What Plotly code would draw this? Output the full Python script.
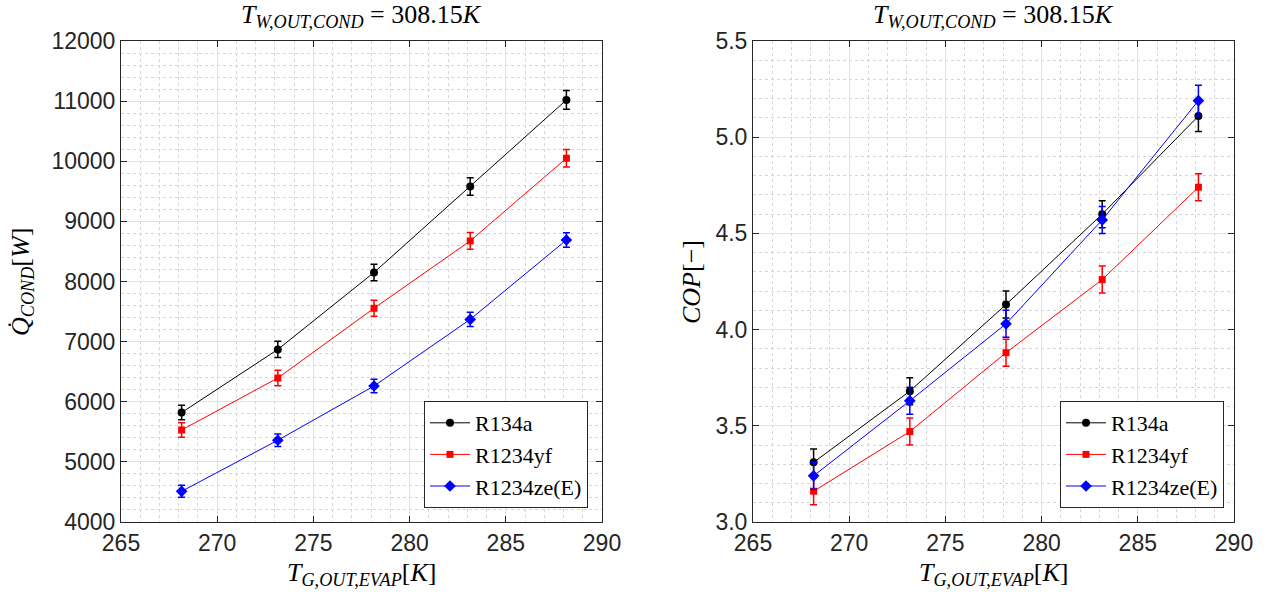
import plotly.graph_objects as go

# ---------------- data ----------------
T_evap = [268.15, 273.15, 278.15, 283.15, 288.15]

Q_r134a = [5820, 6870, 8150, 9580, 11020]
Q_r134a_err = [120, 135, 138, 147, 155]
Q_r1234yf = [5530, 6395, 7555, 8675, 10050]
Q_r1234yf_err = [122, 128, 133, 139, 144]
Q_r1234ze = [4510, 5360, 6262, 7370, 8690]
Q_r1234ze_err = [100, 105, 111, 117, 122]

COP_r134a = [3.31, 3.68, 4.13, 4.60, 5.11]
COP_r134a_err = [0.07, 0.07, 0.07, 0.07, 0.08]
COP_r1234yf = [3.16, 3.47, 3.88, 4.26, 4.74]
COP_r1234yf_err = [0.07, 0.07, 0.07, 0.07, 0.07]
COP_r1234ze = [3.24, 3.63, 4.03, 4.57, 5.19]
COP_r1234ze_err = [0.07, 0.07, 0.07, 0.07, 0.08]

series_names = ["R134a", "R1234yf", "R1234ze(E)"]
x_ticks = [265, 270, 275, 280, 285, 290]
yq_ticks = [4000, 5000, 6000, 7000, 8000, 9000, 10000, 11000, 12000]
ycop_ticks = [3.0, 3.5, 4.0, 4.5, 5.0, 5.5]

# ---------------- styles ----------------
colors = ["#000000", "#ff0000", "#0000ff"]
symbols = ["circle", "square", "diamond"]
msizes = [8, 7, 9]
AX = "#262626"
SANS = "Liberation Sans, Arial, sans-serif"
SERIF = "Liberation Serif, Times New Roman, serif"

fig = go.Figure()

q_sets = [(Q_r134a, Q_r134a_err), (Q_r1234yf, Q_r1234yf_err), (Q_r1234ze, Q_r1234ze_err)]
c_sets = [(COP_r134a, COP_r134a_err), (COP_r1234yf, COP_r1234yf_err), (COP_r1234ze, COP_r1234ze_err)]

for i, (vals, errs) in enumerate(q_sets):
    fig.add_trace(go.Scatter(
        x=T_evap, y=vals, name=series_names[i], mode="lines+markers",
        line=dict(color=colors[i], width=1),
        marker=dict(color=colors[i], symbol=symbols[i], size=msizes[i]),
        error_y=dict(type="data", array=errs, visible=True, color=colors[i], thickness=1.5, width=3.5),
        xaxis="x", yaxis="y", legend="legend"))

for i, (vals, errs) in enumerate(c_sets):
    fig.add_trace(go.Scatter(
        x=T_evap, y=vals, name=series_names[i], mode="lines+markers",
        line=dict(color=colors[i], width=1),
        marker=dict(color=colors[i], symbol=symbols[i], size=msizes[i]),
        error_y=dict(type="data", array=errs, visible=True, color=colors[i], thickness=1.5, width=3.5),
        xaxis="x2", yaxis="y2", legend="legend2"))

W, H = 1271, 592
L_dom = [121 / W, 602 / W]
R_dom = [753 / W, 1234 / W]
Y_dom = [1 - 522 / H, 1 - 41 / H]


def axis_common():
    return dict(
        showline=True, linecolor=AX, linewidth=1, mirror="allticks",
        ticks="inside", ticklen=6, tickcolor=AX, tickwidth=1,
        showgrid=True, gridcolor="#e2e2e2", gridwidth=1, zeroline=False, automargin=False,
        tickfont=dict(family=SANS, size=23, color=AX),
    )


leg_font = dict(family=SERIF, size=22, color="black")
fig.update_layout(
    width=W, height=H, autosize=False,
    margin=dict(l=0, r=0, t=0, b=0),
    paper_bgcolor="white", plot_bgcolor="white",
    showlegend=True,
    xaxis=dict(domain=L_dom, anchor="y", range=[265, 290], tickmode="array", tickvals=x_ticks,
               minor=dict(dtick=1, tick0=265, showgrid=True, gridcolor="#d6d6d6", griddash="dot", gridwidth=1),
               **axis_common()),
    yaxis=dict(domain=Y_dom, anchor="x", range=[4000, 12000], tickmode="array", tickvals=yq_ticks,
               tickformat="d",
               minor=dict(dtick=200, tick0=4000, showgrid=True, gridcolor="#d6d6d6", griddash="dot", gridwidth=1),
               **axis_common()),
    xaxis2=dict(domain=R_dom, anchor="y2", range=[265, 290], tickmode="array", tickvals=x_ticks,
                minor=dict(dtick=1, tick0=265, showgrid=True, gridcolor="#d6d6d6", griddash="dot", gridwidth=1),
                **axis_common()),
    yaxis2=dict(domain=Y_dom, anchor="x2", range=[3.0, 5.5], tickmode="array", tickvals=ycop_ticks,
                tickformat=".1f",
                minor=dict(dtick=0.1, tick0=3.0, showgrid=True, gridcolor="#d6d6d6", griddash="dot", gridwidth=1),
                **axis_common()),
    legend=dict(x=588 / W, xanchor="right", y=1 - 508 / H, yanchor="bottom",
                bgcolor="white", bordercolor=AX, borderwidth=1,
                font=leg_font, itemwidth=40, tracegroupgap=0),
    legend2=dict(x=1224 / W, xanchor="right", y=1 - 508 / H, yanchor="bottom",
                 bgcolor="white", bordercolor=AX, borderwidth=1,
                 font=leg_font, itemwidth=40, tracegroupgap=0),
)

title_txt = "<i>T</i><sub><i>W,OUT,COND</i></sub> = 308.15<i>K</i>"
xlab = "<i>T</i><sub><i>G,OUT,EVAP</i></sub>[<i>K</i>]"
ann_font = dict(family=SERIF, size=26, color="black")
for dom in (L_dom, R_dom):
    cx = (dom[0] + dom[1]) / 2
    fig.add_annotation(text=title_txt, x=cx, y=1 - 16 / H, xref="paper", yref="paper",
                       xanchor="center", yanchor="middle", showarrow=False, font=ann_font)
    fig.add_annotation(text=xlab, x=cx, y=1 - 574 / H, xref="paper", yref="paper",
                       xanchor="center", yanchor="middle", showarrow=False, font=ann_font)

fig.add_annotation(text="<i>Q\u0307</i><sub><i>COND</i></sub>[<i>W</i>]", x=22 / W, y=1 - 282 / H,
                   xref="paper", yref="paper", xanchor="center", yanchor="middle",
                   textangle=-90, showarrow=False, font=ann_font)
fig.add_annotation(text="<i>COP</i>[\u2212]", x=691 / W, y=1 - 282 / H,
                   xref="paper", yref="paper", xanchor="center", yanchor="middle",
                   textangle=-90, showarrow=False, font=ann_font)

fig.write_html(
    "out.html",
    post_script="document.body.style.margin='0';document.body.style.padding='0';"
                "document.documentElement.style.overflow='hidden';",
)
